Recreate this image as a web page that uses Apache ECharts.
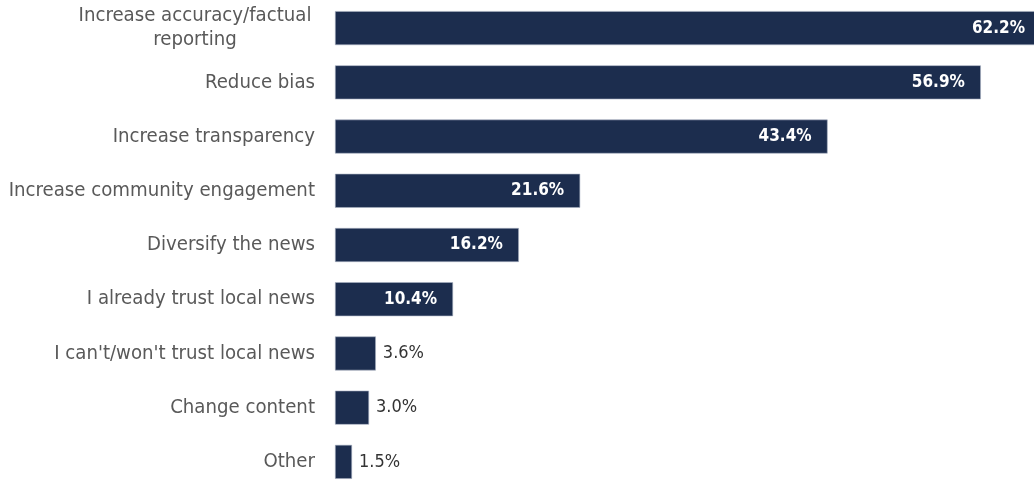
<!DOCTYPE html>
<html>
<head>
<meta charset="utf-8">
<style>
  html, body { margin: 0; padding: 0; background: #ffffff; overflow: hidden; }
  /* The longest bar runs slightly past the right edge of the view */
  #chart { width: 1041px; height: 489px; }
</style>
<script src="https://cdn.jsdelivr.net/npm/echarts@6/dist/echarts.min.js"></script>
</head>
<body>
<div id="chart"></div>
<script>
// Ways to build trust in local news (% of respondents)
const categories = [
  'Increase accuracy/factual\nreporting',
  'Reduce bias',
  'Increase transparency',
  'Increase community engagement',
  'Diversify the news',
  'I already trust local news',
  "I can't/won't trust local news",
  'Change content',
  'Other'
];
const values = [62.2, 56.9, 43.4, 21.6, 16.2, 10.4, 3.6, 3.0, 1.5];
// Small bars carry their value label outside the bar
const outsideThreshold = 5;

const FONT = 'DejaVu Sans Condensed';
const BAR = '#1c2d4e';

const chart = echarts.init(document.getElementById('chart'), null, { renderer: 'canvas' });

const seriesData = values.map(v => {
  const inside = v >= outsideThreshold;
  return {
    value: v,
    label: inside
      ? { position: 'insideRight', distance: 16, color: '#ffffff', fontWeight: 'bold', fontSize: 17 }
      : { position: 'right', distance: 7, color: '#333333', fontWeight: 'normal', fontSize: 18 }
  };
});

chart.setOption({
  animation: false,
  grid: { left: 335, right: 0, top: 1, bottom: 0, containLabel: false },
  xAxis: {
    type: 'value',
    min: 0,
    max: 62.2,
    show: false
  },
  yAxis: {
    type: 'category',
    inverse: true,
    data: categories,
    axisLine: { show: false },
    axisTick: { show: false },
    splitLine: { show: false },
    axisLabel: {
      margin: 20,
      color: '#595959',
      fontFamily: FONT,
      fontSize: 20.2,
      lineHeight: 24,
      align: 'right',
      formatter: function (val) {
        if (val.indexOf('\n') < 0) return val;
        return val.split('\n').map(s => '{c|' + s + '}').join('\n');
      },
      rich: {
        c: { width: 240, align: 'center', color: '#595959', fontFamily: FONT, fontSize: 20.2, lineHeight: 24 }
      }
    }
  },
  series: [{
    type: 'bar',
    data: seriesData,
    barWidth: 34,
    itemStyle: { color: BAR, borderColor: '#aab2c2', borderWidth: 0.6 },
    label: {
      show: true,
      fontFamily: FONT,
      formatter: p => p.value.toFixed(1) + '%'
    }
  }]
});
</script>
</body>
</html>
